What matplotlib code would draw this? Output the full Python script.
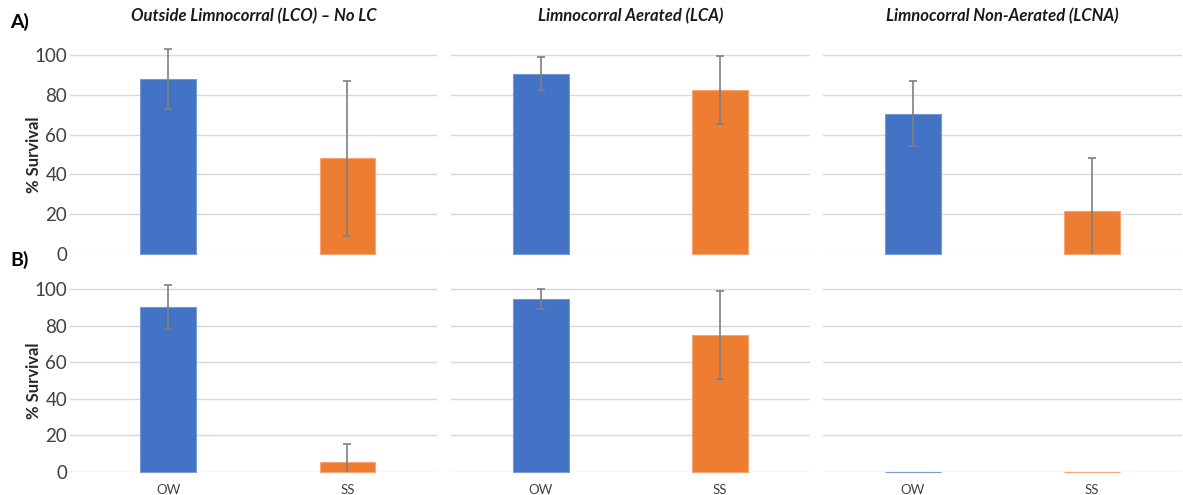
import matplotlib.pyplot as plt

plt.rcParams['font.family'] = ['Lato', 'DejaVu Sans']

# データ
categories = ["OW", "SS"]
titles = ["Outside Limnocorral (LCO) \u2013 No LC",
          "Limnocorral Aerated (LCA)",
          "Limnocorral Non-Aerated (LCNA)"]
surv_a = [[88, 48], [90.5, 82.5], [70.5, 21.8]]
err_a = [[15, 39], [8.2, 17], [16.3, 26.4]]
surv_b = [[90, 5.3], [94.5, 74.7], [0, 0]]
err_b = [[12, 9.8], [5.5, 24], [0, 0]]

colors = ["#4472C4", "#ED7D31"]
edges = ["#7a9ad6", "#f4a676"]
W, H = 1183, 495

fig = plt.figure(figsize=(W / 100, H / 100), dpi=100)

# パネル位置 (px)
cols = [(70, 437, -0.547), (451, 810, -0.5), (823, 1182, -0.5)]
rows = [(35, 254, 110), (283.5, 472, 103)]  # top px, zero px, ymax

for r, (ytop, yzero, ymax) in enumerate(rows):
    vals = surv_a if r == 0 else surv_b
    errs = err_a if r == 0 else err_b
    for c, (x0, x1, xmin) in enumerate(cols):
        ax = fig.add_axes([x0 / W, 1 - yzero / H, (x1 - x0) / W, (yzero - ytop) / H])
        xs = list(range(len(categories)))
        ax.bar(xs, vals[c], width=0.31, color=colors, edgecolor=edges,
               linewidth=0.8, clip_on=False, zorder=2)
        for i in xs:
            if errs[c][i] > 0:
                ax.errorbar(i, vals[c][i], yerr=errs[c][i], fmt='none',
                            ecolor='#7f7f7f', elinewidth=1.2, capsize=3,
                            capthick=1.2, zorder=3)
        ax.set_xlim(xmin, 1.5)
        ax.set_ylim(0, ymax)
        ax.set_yticks([0, 20, 40, 60, 80, 100])
        ax.yaxis.grid(True, color='#d9d9d9', linewidth=1)
        ax.set_axisbelow(True)
        for s in ax.spines.values():
            s.set_visible(False)
        ax.tick_params(length=0, colors='#404040')
        ax.tick_params(axis='y', labelsize=13.5, pad=2)
        if c == 0:
            ax.set_ylabel("% Survival", fontsize=12, fontweight='bold',
                          color='#262626')
            # 100を基準にラベル中央を合わせる
            ax.yaxis.set_label_coords((42 - x0) / (x1 - x0), 50 / ymax)
        else:
            ax.set_yticklabels([])
        if r == 1:
            ax.set_xticks(xs)
            ax.set_xticklabels(categories, fontsize=9.5)
            ax.tick_params(axis='x', pad=9)
        else:
            ax.set_xticks([])
            ax.set_title(titles[c], fontsize=12, fontweight='bold',
                         style='italic', color='#1a1a1a', pad=10)

fig.text(10 / W, 1 - 22 / H, "A)", fontsize=14, fontweight='bold', va='center')
fig.text(10 / W, 1 - 260 / H, "B)", fontsize=14, fontweight='bold', va='center')

fig.savefig("out.png", dpi=100)
